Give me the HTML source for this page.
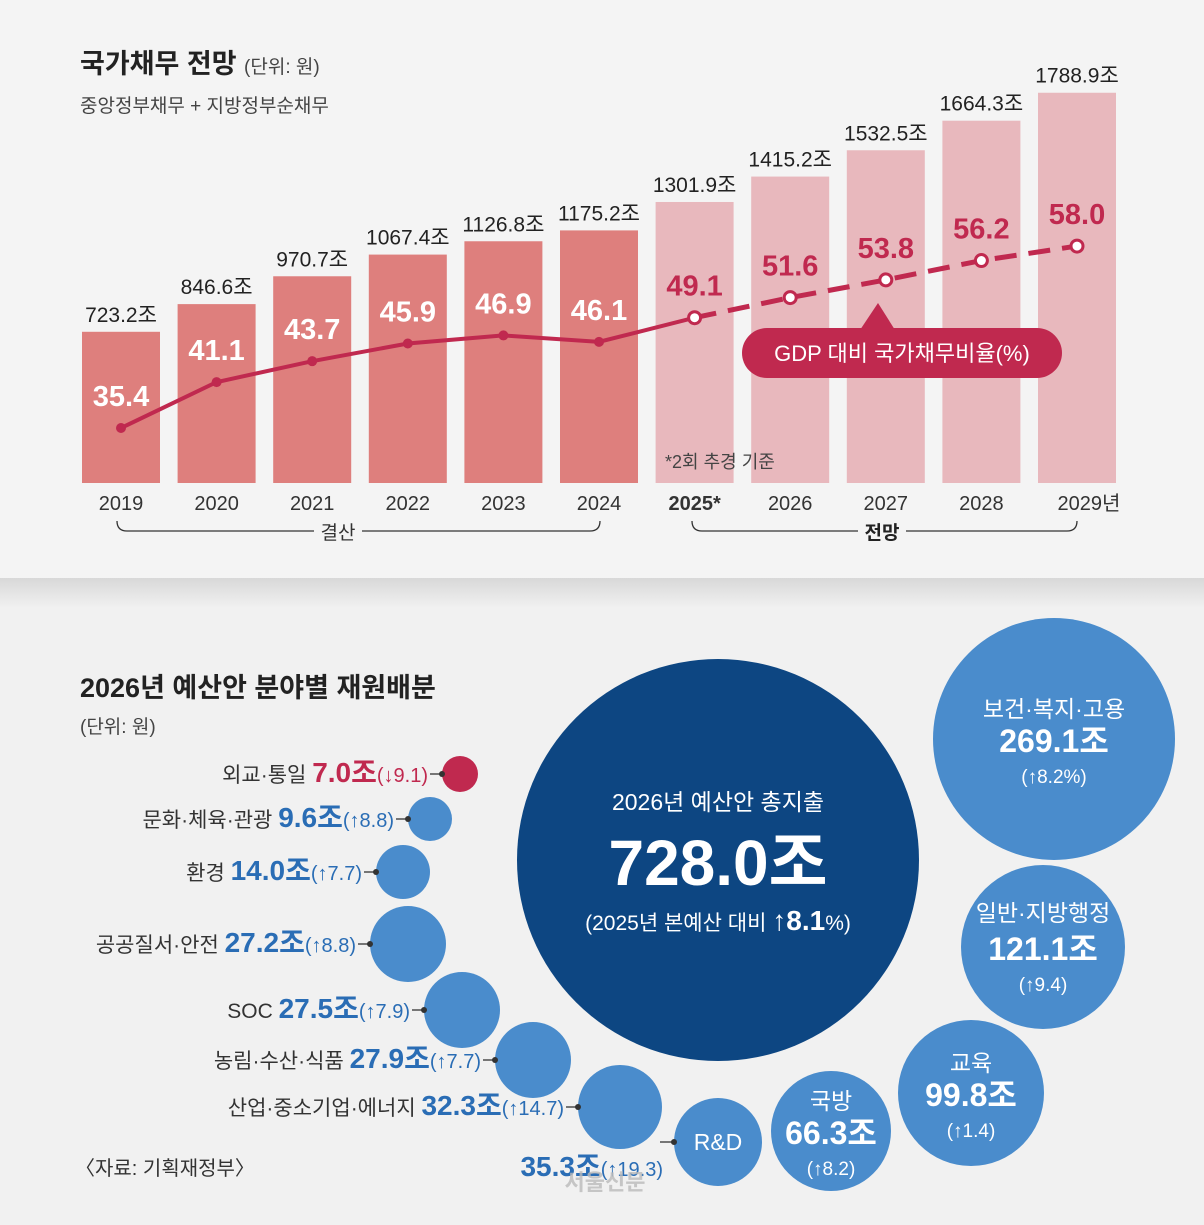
<!DOCTYPE html>
<html><head><meta charset="utf-8"><style>
html,body{margin:0;padding:0;background:#f1f1f1}
svg{display:block}
text{font-family:"Liberation Sans Narrow","Liberation Sans","Noto Sans CJK KR",sans-serif}
</style></head><body>
<svg id="chart" width="1204" height="1225" viewBox="0 0 1204 1225" xmlns="http://www.w3.org/2000/svg">
<defs>
<linearGradient id="sh" x1="0" y1="0" x2="0" y2="1"><stop offset="0" stop-color="#d8d8d8"/><stop offset="1" stop-color="#f1f1f1"/></linearGradient>
</defs>
<rect x="0" y="0" width="1204" height="1225" fill="#f1f1f1"/>
<rect x="0" y="578" width="1204" height="30" fill="url(#sh)"/>
<rect x="0" y="0" width="1204" height="578" fill="#f4f4f4"/>
<text x="80" y="73" font-size="27" font-weight="bold" fill="#222">국가채무 전망 <tspan font-size="19" font-weight="normal" fill="#444">(단위: 원)</tspan></text>
<text x="80" y="112" font-size="19" fill="#444">중앙정부채무 + 지방정부순채무</text>
<g id="bars"></g>
<g id="line"></g>
<g>
<path d="M878 303 L895 330 L860 330 Z" fill="#c0294f"/>
<rect x="742" y="328" width="320" height="50" rx="25" fill="#c0294f"/>
<text x="902" y="361" font-size="22" fill="#fff" text-anchor="middle">GDP 대비 국가채무비율(%)</text>
</g>
<text x="665" y="468" font-size="18" fill="#444">*2회 추경 기준</text>
<g fill="none" stroke="#333" stroke-width="1.3">
<path d="M117 521 q0 10 10 10 H314 M362 531 H590 q10 0 10 -10"/>
</g>
<text x="338" y="539" font-size="19" fill="#333" text-anchor="middle">결산</text>
<g fill="none" stroke="#333" stroke-width="1.3">
<path d="M692 521 q0 10 10 10 H858 M906 531 H1067 q10 0 10 -10"/>
</g>
<text x="882" y="539" font-size="19" font-weight="bold" fill="#222" text-anchor="middle">전망</text>

<text x="80" y="697" font-size="27" font-weight="bold" fill="#222">2026년 예산안 분야별 재원배분</text>
<text x="80" y="733" font-size="19" fill="#444">(단위: 원)</text>
<text x="75" y="1175" font-size="20" fill="#333">〈자료: 기획재정부〉</text>

<g>
<circle cx="718" cy="860" r="201" fill="#0d4682"/>
<text x="718" y="810" font-size="23" fill="#fff" text-anchor="middle">2026년 예산안 총지출</text>
<text x="718" y="885" font-size="64" font-weight="bold" fill="#fff" text-anchor="middle">728.0조</text>
<text x="718" y="930" font-size="21" fill="#fff" text-anchor="middle">(2025년 본예산 대비 <tspan font-weight="bold" font-size="28">↑8.1</tspan>%)</text>
</g>
<g id="bubbles"></g>
<text x="605" y="1190" font-size="22" font-weight="bold" fill="#bbb" text-anchor="middle" opacity="0.8">서울신문</text>
</svg>
<script>
const years=['2019','2020','2021','2022','2023','2024','2025*','2026','2027','2028','2029년'];
const debt=[723.2,846.6,970.7,1067.4,1126.8,1175.2,1301.9,1415.2,1532.5,1664.3,1788.9];
const ratio=[35.4,41.1,43.7,45.9,46.9,46.1,49.1,51.6,53.8,56.2,58.0];
const forecastStart=6;
const NS='http://www.w3.org/2000/svg';
function mk(tag,attrs,parent,txt){const e=document.createElementNS(NS,tag);for(const k in attrs)e.setAttribute(k,attrs[k]);if(txt!==undefined)e.textContent=txt;parent.appendChild(e);return e;}
const xC=i=>121+i*95.6;
const baseY=483;
const yBar=v=>baseY-(v*0.2243-11);
const yLine=v=>428-(v-35.4)*8.05;
const bars=document.getElementById('bars');
debt.forEach((v,i)=>{
  const fut=i>=forecastStart;
  const r=mk('rect',{x:xC(i)-39,y:yBar(v),width:78,height:baseY-yBar(v),fill:fut?'#e8b8bd':'#de7f7d'},bars);
  
  
  const t=mk('text',{x:xC(i),y:yBar(v)-10,'font-size':21,fill:'#222','text-anchor':'middle'},bars,v.toFixed(1)+'조');
  
  
  const y=mk('text',{x:xC(i)+(i==10?12:0),y:510,'font-size':20,fill:'#333','text-anchor':'middle','font-weight':i==forecastStart?'bold':'normal'},bars,years[i]);
  
  
});
const line=document.getElementById('line');
const ptsA=ratio.slice(0,forecastStart+1).map((v,i)=>xC(i)+','+yLine(v)).join(' ');
const ptsB=ratio.slice(forecastStart).map((v,i)=>xC(i+forecastStart)+','+yLine(v)).join(' ');
const l1=mk('polyline',{points:ptsA,fill:'none',stroke:'#c0294f','stroke-width':4},line);


const l2=mk('polyline',{points:ptsB,fill:'none',stroke:'#c0294f','stroke-width':5,'stroke-dasharray':'22 12'},line);


ratio.forEach((v,i)=>{
  const fut=i>=forecastStart;
  const c=mk('circle',{cx:xC(i),cy:yLine(v),r:fut?6:5,fill:fut?'#fff':'#c0294f',stroke:'#c0294f','stroke-width':fut?3:0},line);
  
  
  const t=mk('text',{x:xC(i),y:yLine(v)-22,'font-size':29,'font-weight':'bold',fill:fut?'#c0294f':'#fff','text-anchor':'middle'},line,v.toFixed(1));
  
  
});
const leftNames=['외교·통일','문화·체육·관광','환경','공공질서·안전','SOC','농림·수산·식품','산업·중소기업·에너지','R&D'];
const leftVals=[7.0,9.6,14.0,27.2,27.5,27.9,32.3,35.3];
const leftChg=['↓9.1','↑8.8','↑7.7','↑8.8','↑7.9','↑7.7','↑14.7','↑19.3'];
const leftPos=[[460,774,18],[430,819,22],[403,872,27],[408,944,38],[462,1010,38],[533,1060,38],[620,1107,42],[718,1142,44]];
const bub=document.getElementById('bubbles');
leftNames.forEach((n,i)=>{
  const [cx,cy,r]=leftPos[i];
  const red=i==0;
  const c=mk('circle',{cx,cy,r,fill:red?'#c0294f':'#4a8ccc'},bub);
  
  
  let ty=cy+8, tx=cx-r-14;
  if(i==7){mk('text',{x:cx,y:cy+8,'font-size':23,fill:'#fff','text-anchor':'middle'},bub,'R&D');ty=cy+34;tx=cx-r-16;}
  mk('line',{x1:tx+2,y1:cy,x2:cx-r,y2:cy,stroke:'#333','stroke-width':1.3},bub);
  mk('circle',{cx:cx-r,cy:cy,r:3,fill:'#333'},bub);
  const t=mk('text',{x:i==7?tx+5:tx,y:ty,'font-size':21,fill:'#333','text-anchor':'end'},bub);
  
  
  if(i<7){mk('tspan',{},t,n+' ');}
  mk('tspan',{'font-size':28,'font-weight':'bold',fill:red?'#c0294f':'#2a6db5'},t,leftVals[i].toFixed(1)+'조');
  mk('tspan',{'font-size':20,fill:red?'#c0294f':'#2a6db5'},t,'('+leftChg[i]+')');
});
const rightNames=['보건·복지·고용','일반·지방행정','교육','국방'];
const rightVals=[269.1,121.1,99.8,66.3];
const rightChg=['↑8.2%','↑9.4','↑1.4','↑8.2'];
const rightPos=[[1054,739,121],[1043,947,82],[971,1093,73],[831,1131,60]];
rightNames.forEach((n,i)=>{
  const [cx,cy,r]=rightPos[i];
  const c=mk('circle',{cx,cy,r,fill:'#4a8ccc'},bub);
  
  
  const t1=mk('text',{x:cx,y:i==1?cy-26:cy-22,'font-size':23,fill:'#fff','text-anchor':'middle'},bub,n);
  
  
  const t2=mk('text',{x:cx,y:cy+13,'font-size':32,'font-weight':'bold',fill:'#fff','text-anchor':'middle'},bub,rightVals[i].toFixed(1)+'조');
  
  
  const t3=mk('text',{x:cx,y:cy+44,'font-size':19,fill:'#fff','text-anchor':'middle'},bub,'('+rightChg[i]+')');
  
  
});
</script>
</body></html>
